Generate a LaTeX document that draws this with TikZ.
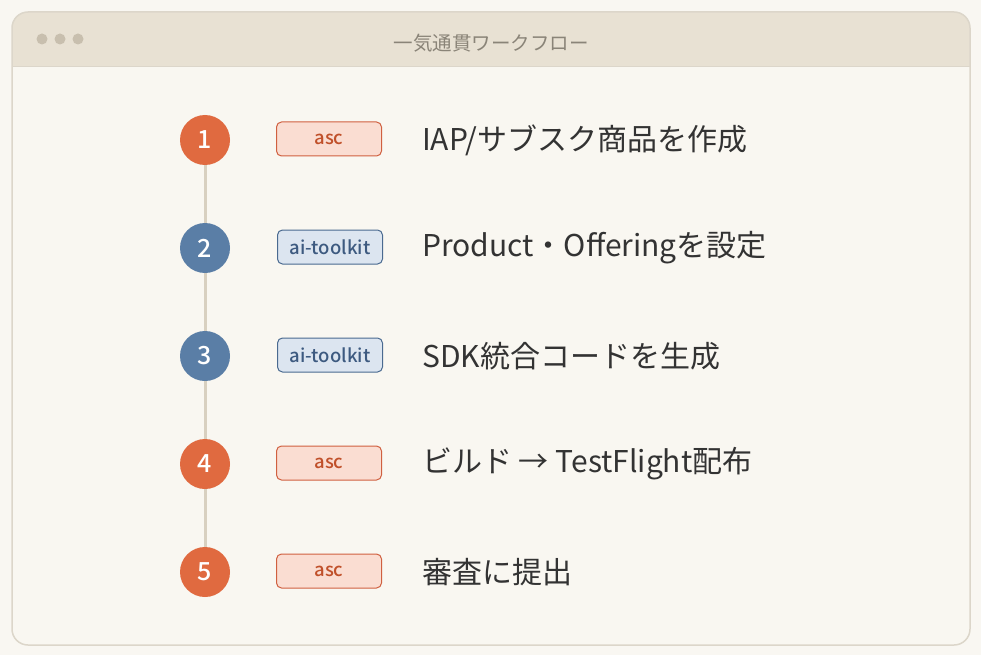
\documentclass[tikz,border=0pt]{standalone}
\usepackage{fontspec}
\setmainfont{Noto Sans CJK JP}[BoldFont={Noto Sans CJK JP Bold}]
\newfontfamily\tagfont{Noto Sans CJK JP Medium}
\usetikzlibrary{positioning,backgrounds}
\definecolor{pagebg}{HTML}{F9F7F2}
\definecolor{winbg}{HTML}{F9F7F1}
\definecolor{winedge}{HTML}{DCD6CA}
\definecolor{barbg}{HTML}{E8E1D3}
\definecolor{dotgray}{HTML}{C8BFAE}
\definecolor{titlegray}{HTML}{8A8478}
\definecolor{railgray}{HTML}{D8D0C0}
\definecolor{ascorange}{HTML}{E06A40}
\definecolor{ascfill}{HTML}{FADDD2}
\definecolor{ascedge}{HTML}{D06040}
\definecolor{asctext}{HTML}{C0502A}
\definecolor{kitblue}{HTML}{5A7EA6}
\definecolor{kitfill}{HTML}{DCE5F0}
\definecolor{kitedge}{HTML}{4A6A90}
\definecolor{kittext}{HTML}{3D5A80}
\definecolor{stepink}{HTML}{333333}

\begin{document}
\begin{tikzpicture}[x=1pt, y=-1pt,
    numnode/.style={circle, minimum size=50pt, inner sep=0pt, text=white,
      font=\fontsize{25}{28}\tagfont},
    ascnum/.style={numnode, fill=ascorange},
    kitnum/.style={numnode, fill=kitblue},
    tagnode/.style={rounded corners=5pt, line width=1pt, minimum width=105pt,
      minimum height=34pt, inner ysep=0pt, inner xsep=10pt,
      font=\fontsize{18.5}{21}\tagfont},
    asctag/.style={tagnode, draw=ascedge, fill=ascfill, text=asctext},
    kittag/.style={tagnode, draw=kitedge, fill=kitfill, text=kittext},
    stepnote/.style={anchor=west, inner sep=0pt, text=stepink,
      font=\fontsize{30}{34}\selectfont}]
    \useasboundingbox (0,0) rectangle (981,655);
    \fill[pagebg] (0,0) rectangle (981,655);

    % window and title bar
    \fill[winbg, rounded corners=16pt] (12,12) rectangle (970,645);
    \begin{scope}
      \clip[rounded corners=16pt] (12,12) rectangle (970,645);
      \fill[barbg] (12,12) rectangle (970,66);
    \end{scope}
    \draw[winedge, line width=0.8pt] (12,66) -- (970,66);
    \draw[winedge, line width=1.5pt, rounded corners=16pt] (12,12) rectangle (970,645);
    \foreach \dx in {42,60,78}
      \fill[dotgray] (\dx,39) circle (5.5pt);
    \node[text=titlegray, font=\fontsize{19.5}{23}\selectfont] (title) at (491,43) {一気通貫ワークフロー};

    % steps
    \node[ascnum] (n1) at (205,140) {1};
    \node[kitnum] (n2) at (205,248) {2};
    \node[kitnum] (n3) at (205,356) {3};
    \node[ascnum] (n4) at (205,464) {4};
    \node[ascnum] (n5) at (205,572) {5};

    \node[asctag] (t1) at (329,139) {asc};
    \node[kittag] (t2) at (330,247) {ai-toolkit};
    \node[kittag] (t3) at (330,355) {ai-toolkit};
    \node[asctag] (t4) at (329,463) {asc};
    \node[asctag] (t5) at (329,571) {asc};

    \node[stepnote] (s1) at (422,140) {IAP/サブスク商品を作成};
    \node[stepnote] (s2) at (422,248) {Product・Offeringを設定};
    \node[stepnote] (s3) at (422,356) {SDK統合コードを生成};
    \node[stepnote] (s4) at (422,464) {ビルド → TestFlight配布};
    \node[stepnote] (s5) at (422,572) {審査に提出};

    % rail between the circles
    \foreach \a/\b in {n1/n2,n2/n3,n3/n4,n4/n5}
      \draw[railgray, line width=3pt] (\a) -- (\b);
\end{tikzpicture}
\end{document}
